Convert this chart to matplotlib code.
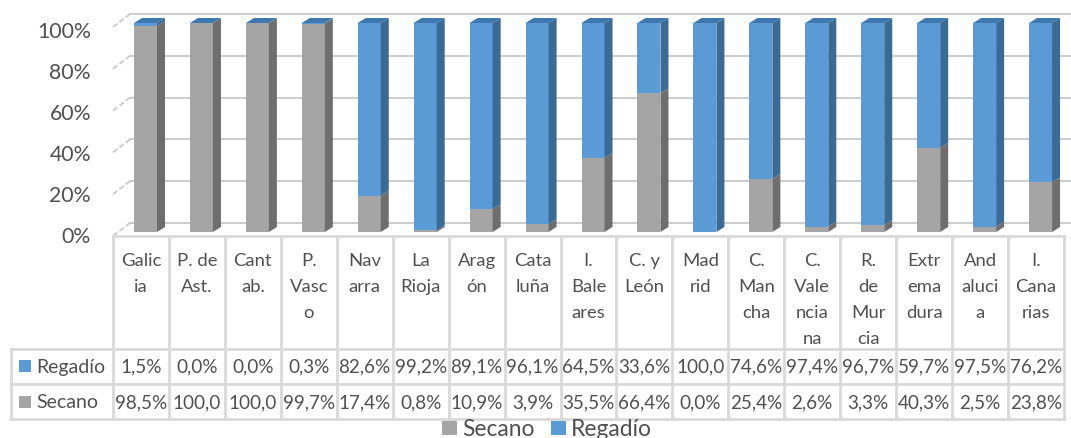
import matplotlib
matplotlib.use("Agg")
import matplotlib.pyplot as plt
from matplotlib.patches import Polygon, Rectangle

categories = [["Galic", "ia"], ["P. de", "Ast."], ["Cant", "ab."], ["P.", "Vasc", "o"],
              ["Nav", "arra"], ["La", "Rioja"], ["Arag", "ón"], ["Cata", "luña"],
              ["I.", "Bale", "ares"], ["C. y", "León"], ["Mad", "rid"], ["C.", "Man", "cha"],
              ["C.", "Vale", "ncia", "na"], ["R.", "de", "Mur", "cia"], ["Extr", "ema", "dura"],
              ["And", "aluci", "a"], ["I.", "Cana", "rias"]]
regadio = [1.5, 0.0, 0.0, 0.3, 82.6, 99.2, 89.1, 96.1, 64.5, 33.6, 100.0, 74.6, 97.4, 96.7, 59.7, 97.5, 76.2]
secano = [98.5, 100.0, 100.0, 99.7, 17.4, 0.8, 10.9, 3.9, 35.5, 66.4, 0.0, 25.4, 2.6, 3.3, 40.3, 2.5, 23.8]
series_names = ["Regadío", "Secano"]
yticks = [0, 20, 40, 60, 80, 100]

FONT = "Lato"
TXT = "#505050"
GRID = "#C9C9C9"
TABLE = "#D9D9D9"
BLUE = ("#5B9BD5", "#3A6A96", "#3F78AE")   # front, side, top
GRAY = ("#A5A5A5", "#6E6E6E", "#8C8C8C")

W, H = 1071, 439
fig = plt.figure(figsize=(W / 100, H / 100), dpi=100)

# main axes: x in category units, y in percent (front plane)
x0_px, x1_px = 113, 1064
y0_px, y100_px = 237, 28
ax = fig.add_axes([x0_px / W, 1 - y0_px / H, (x1_px - x0_px) / W, (y0_px - y100_px) / H])
n = len(categories)
ax.set_xlim(0, n)
ax.set_ylim(0, 100)
ax.axis("off")
PX = (x1_px - x0_px) / n          # px per x unit
PY = (y0_px - y100_px) / 100.0    # px per y unit

def yd(py):  # figure pixel row -> data y
    return (y0_px - py) / PY

def xd(px):
    return (px - x0_px) / PX

# walls
wdx, wdy = 17 / PX, 13 / PY
for t in yticks:
    ax.plot([wdx, xd(1071)], [t + wdy, t + wdy], color=GRID, lw=1.3, clip_on=False, zorder=1)
    ax.plot([0, wdx], [t, t + wdy], color=GRID, lw=1.3, ls=(0, (3, 1.5)), clip_on=False, zorder=1)
    ax.text(xd(91), t * 0.98, f"{t}%", ha="right", va="center", fontsize=15.3,
            color=TXT, family=FONT, clip_on=False)

# bars
bl, bw = 21 / PX, 23 / PX
bdx, bdy = 8 / PX, 5 / PY
base = 4 / PY

def prism(x, y0, y1, cols, top):
    if y1 - y0 <= 0 and not top:
        return
    front = Rectangle((x, y0), bw, y1 - y0, facecolor=cols[0], edgecolor="none", zorder=3,
                      clip_on=False)
    side = Polygon([(x + bw, y0), (x + bw + bdx, y0 + bdy), (x + bw + bdx, y1 + bdy), (x + bw, y1)],
                   closed=True, facecolor=cols[1], edgecolor="none", zorder=3, clip_on=False)
    ax.add_patch(front)
    ax.add_patch(side)
    if top:
        tp = Polygon([(x, y1), (x + bdx, y1 + bdy), (x + bw + bdx, y1 + bdy), (x + bw, y1)],
                     closed=True, facecolor=cols[2], edgecolor="none", zorder=3, clip_on=False)
        ax.add_patch(tp)

for i in range(n):
    x = i + bl
    s, r = secano[i], regadio[i]
    prism(x, base, base + s, GRAY, False)
    prism(x, base + s, base + s + r, BLUE, True)

# table
tl = 11
rows_px = [237, 350, 385, 420]
for k, py in enumerate(rows_px):
    xa = xd(x0_px) if k == 0 else xd(tl)
    ax.plot([xa, n], [yd(py), yd(py)], color=TABLE, lw=2, clip_on=False, zorder=2)
for i in range(n + 1):
    ax.plot([i, i], [yd(237), yd(420)], color=TABLE, lw=2, clip_on=False, zorder=2)
ax.plot([xd(tl), xd(tl)], [yd(350), yd(420)], color=TABLE, lw=2, clip_on=False, zorder=2)

for i, lines in enumerate(categories):
    for j, ln in enumerate(lines):
        ax.text(i + 0.5, yd(261 + 26 * j), ln, ha="center", va="center", fontsize=13.3,
                color=TXT, family=FONT, clip_on=False)

def fmt(v):
    s = f"{v:.1f}%".replace(".", ",")
    return s[:5]

row_y = [367, 403]
row_cols = [BLUE[0], GRAY[0]]
for k, (name, vals) in enumerate(zip(series_names, [regadio, secano])):
    yy = yd(row_y[k])
    ax.add_patch(Rectangle((xd(19), yy - 6 / PY), 12 / PX, 12 / PY, facecolor=row_cols[k],
                           edgecolor="none", clip_on=False))
    ax.text(xd(36), yy, name, ha="left", va="center", fontsize=14, color=TXT, family=FONT,
            clip_on=False)
    for i, v in enumerate(vals):
        ax.text(i + 0.5, yy, fmt(v), ha="center", va="center", fontsize=13.6, color=TXT,
                family=FONT, clip_on=False)

# legend
leg = [("Secano", GRAY[0], 442), ("Regadío", BLUE[0], 551)]
ly = yd(429)
for name, c, lx in leg:
    ax.add_patch(Rectangle((xd(lx), ly - 7 / PY), 15 / PX, 14 / PY, facecolor=c,
                           edgecolor="none", clip_on=False))
    ax.text(xd(lx + 20), ly, name, ha="left", va="center", fontsize=16.4, color=TXT,
            family=FONT, clip_on=False)

fig.savefig("out.png", dpi=100)
